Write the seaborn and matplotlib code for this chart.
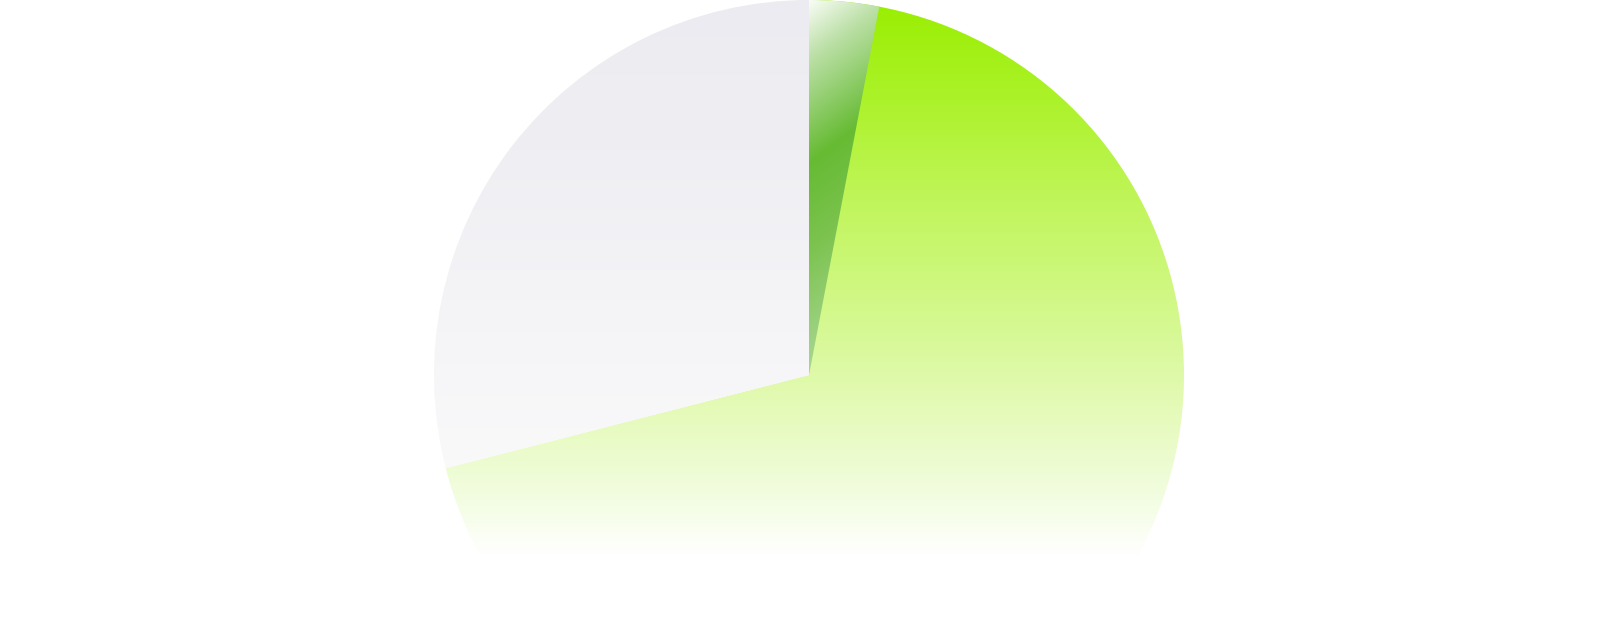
import numpy as np
import matplotlib
matplotlib.use("Agg")
import matplotlib.pyplot as plt
from matplotlib.patches import Wedge
import seaborn as sns

# ---- data ----
labels = ["Segment A", "Segment B", "Segment C"]
values = [3, 68, 29]
base_colors = ["#66bb33", "#99ee00", "#ebebf0"]

sns.set_theme(style="white")
plt.rcParams['font.family'] = ['DejaVu Sans']

W, H = 1619, 620
CX, CY, R = 809, 375, 375  # pie centre / radius in image pixels

fig = plt.figure(figsize=(W / 100, H / 100), dpi=100)
fig.patch.set_facecolor("white")
ax = fig.add_axes([0, 0, 1, 1])
wedges, _ = ax.pie(values, labels=None, colors=base_colors, startangle=90,
                   counterclock=False, center=(CX, H - CY), radius=R,
                   frame=True, wedgeprops=dict(linewidth=0))
ax.set_xlim(0, W)
ax.set_ylim(0, H)
ax.set_aspect("equal")
ax.axis("off")

yy, xx = np.mgrid[0:H, 0:W] + 0.5


def interp_cols(t, stops):
    pos = np.array([s[0] for s in stops], float)
    cols = np.array([s[1] for s in stops], float) / 255.0
    img = np.zeros(t.shape + (3,))
    for c in range(3):
        img[..., c] = np.interp(t, pos, cols[:, c])
    return img


# gradient fills (image-pixel coordinates)
small_stops = [(0, (250, 253, 247)), (45, (190, 225, 170)), (130, (102, 187, 51)),
               (200, (124, 195, 80)), (290, (166, 213, 142)), (360, (178, 220, 156))]
lime_stops = [(0, (153, 238, 0)), (100, (172, 242, 42)), (200, (192, 245, 90)),
              (300, (209, 248, 134)), (400, (227, 250, 180)), (500, (243, 253, 226)),
              (555, (255, 255, 255))]
grey_stops = [(0, (236, 235, 241)), (150, (239, 239, 243)), (300, (244, 244, 247)),
              (460, (249, 249, 250)), (555, (255, 255, 255))]

s_small = 0.6 * (xx - CX) + 0.8 * yy
grads = [interp_cols(s_small, small_stops),
         interp_cols(yy, lime_stops),
         interp_cols(yy, grey_stops)]

# lime gradient under lime + small wedge (avoids a hairline gap between them)
small_w, lime_w, grey_w = wedges
under = Wedge(lime_w.center, lime_w.r, lime_w.theta1, small_w.theta2,
              facecolor="none", edgecolor="none")
ax.add_patch(under)
base = ax.imshow(grads[1], extent=(0, W, 0, H), origin="upper",
                 interpolation="bilinear", zorder=0.5, aspect="auto")
base.set_clip_path(under)

for i, (w, g) in enumerate(zip(wedges, grads)):
    w.set_facecolor("none")
    if i == 1:
        continue
    im = ax.imshow(g, extent=(0, W, 0, H), origin="upper", interpolation="bilinear",
                   zorder=1 + i * 0.1, aspect="auto")
    im.set_clip_path(w)

ax.set_xlim(0, W)
ax.set_ylim(0, H)

fig.savefig("out.png", dpi=100, facecolor="white")
